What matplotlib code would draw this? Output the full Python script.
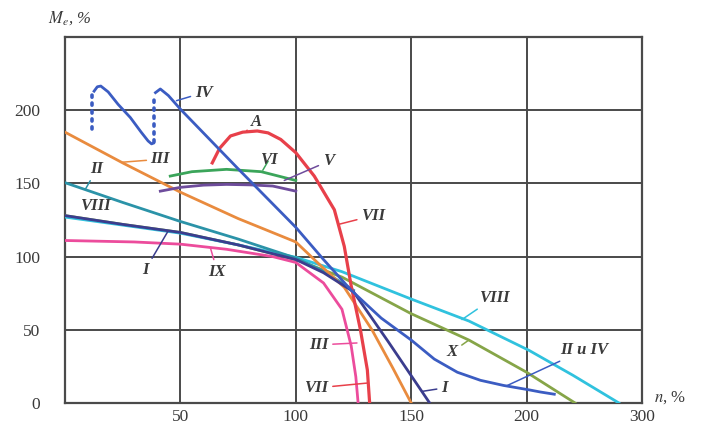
import numpy as np
import matplotlib
matplotlib.use("Agg")
import matplotlib.pyplot as plt

plt.rcParams['font.family'] = ['Liberation Serif', 'DejaVu Serif']
plt.rcParams['mathtext.fontset'] = 'stix'

# curve data, n in %, M in %
I_x = [0, 25, 50, 75, 100, 112, 125, 140, 158]
I_y = [128, 122, 116.5, 108, 98, 89, 76, 42, 0]

II_x = [0, 25, 50, 75, 100, 112, 125]
II_y = [150.5, 137, 124, 112, 99, 90, 77]

III_x = [0, 25, 50, 75, 100, 110, 121, 133, 142, 150]
III_y = [185, 164, 144, 126, 110, 95, 79, 50, 24, 0]

IV_dot1_x = [11.6, 11.6]
IV_dot1_y = [187, 212]
IV_seg_x = [12.6, 14, 15.5, 18.7, 23, 28.3, 33, 36, 37.5, 38.3]
IV_seg_y = [213, 216, 216.5, 212.5, 204, 195, 185, 179, 177, 177.5]
IV_dot2_x = [38.5, 38.5]
IV_dot2_y = [178, 210]
IV_x = [39.2, 41.3, 44.8, 50, 75, 100, 112, 124, 137, 150, 160, 170, 180, 190, 202, 212, 224]
IV_y = [212, 214.5, 210, 200.7, 160, 120, 98, 77, 58, 43, 30, 21, 15.5, 12, 9, 7.5, 6]

V_x = [41.3, 50, 60, 70, 80, 90, 100]
V_y = [144.7, 147.3, 148.8, 149.3, 149, 148.2, 144.7]

VI_x = [45.6, 55, 70, 85, 100]
VI_y = [155, 158, 159.6, 158, 152]

VII_x = [63.8, 67, 71.7, 77, 83.3, 88, 93.5, 100, 108, 116.7, 121, 124, 128, 131, 132]
VII_y = [164, 174, 182.4, 185, 185.8, 184.5, 180, 171, 155, 132, 107, 80, 50, 22.6, 0]

VIII_x = [0, 25, 50, 75, 100, 120, 150, 175, 202, 240, 280]
VIII_y = [127, 121.5, 116, 108, 99.5, 89.7, 71, 56, 36, 19, 0]

IX_x = [0, 30, 50, 70, 90, 100, 112, 120, 124, 126, 127]
IX_y = [111, 110, 108.5, 105, 100, 96, 82, 64, 39, 18, 0]

X_x = [0, 25, 50, 75, 100, 120, 150, 175, 200, 220, 242]
X_y = [128, 122, 116.5, 108, 98, 86, 61, 43, 21, 11, 0]

x_ticks = [50, 100, 150, 200, 300]
y_ticks = [0, 50, 100, 150, 200]

c_I = '#3b3d8e'
c_II = '#2b93a8'
c_III = '#e98b3e'
c_IV = '#3b5cc2'
c_V = '#6e4c9c'
c_VI = '#3ba55a'
c_VII = '#e8404a'
c_VIII = '#30c2de'
c_IX = '#ec4c9c'
c_X = '#86a548'
txt_c = '#3a3a3a'
grid_c = '#4a4a4a'


# the last grid cell (200..300) is drawn at half scale in the original
def fwd(x):
    x = np.asarray(x, dtype=float)
    return np.where(x <= 200, x, 200 + (x - 200) / 2)


def inv(u):
    u = np.asarray(u, dtype=float)
    return np.where(u <= 200, u, 200 + (u - 200) * 2)


fig = plt.figure(figsize=(7.08, 4.29), dpi=100)
ax = fig.add_axes([65 / 708, 1 - 403 / 429, (642 - 65) / 708, (403 - 37) / 429])
ax.set_xscale('function', functions=(fwd, inv))
ax.set_xlim(0, 300)
ax.set_ylim(0, 250)

ax.set_xticks(x_ticks)
ax.set_yticks(y_ticks)
ax.tick_params(length=0, labelsize=12.5, labelcolor=txt_c)
ax.tick_params(axis='x', pad=4)
ax.tick_params(axis='y', pad=18)
for v in [50, 100, 150, 200]:
    ax.axvline(v, color=grid_c, lw=1.4, zorder=1)
    ax.axhline(v, color=grid_c, lw=1.4, zorder=1)
for s in ax.spines.values():
    s.set_color(grid_c)
    s.set_linewidth(1.6)

lw = 2.0
ax.plot(X_x, X_y, color=c_X, lw=lw, zorder=3)
ax.plot(VIII_x, VIII_y, color=c_VIII, lw=lw, zorder=3)
ax.plot(II_x, II_y, color=c_II, lw=lw, zorder=3)
ax.plot(III_x, III_y, color=c_III, lw=lw, zorder=3)
ax.plot(IX_x, IX_y, color=c_IX, lw=lw, zorder=3)
ax.plot(I_x, I_y, color=c_I, lw=lw, zorder=4)
ax.plot(V_x, V_y, color=c_V, lw=lw, zorder=3)
ax.plot(VI_x, VI_y, color=c_VI, lw=lw, zorder=3)
ax.plot(VII_x, VII_y, color=c_VII, lw=lw + 0.3, zorder=4)
ax.plot(IV_seg_x, IV_seg_y, color=c_IV, lw=lw, zorder=4)
ax.plot(IV_x, IV_y, color=c_IV, lw=lw, zorder=4)
ax.plot(IV_dot1_x, IV_dot1_y, color=c_IV, lw=2.6, ls=(0, (0.6, 1.6)),
        dash_capstyle='round', zorder=4)
ax.plot(IV_dot2_x, IV_dot2_y, color=c_IV, lw=2.6, ls=(0, (0.6, 1.6)),
        dash_capstyle='round', zorder=4)

# curve labels: (text, text position, pointer end, pointer colour)
labels = [
    ('IV', (60, 212), (48.3, 206.5), c_IV),
    ('A', (83, 192), (78.7, 186), c_VII),
    ('III', (41.3, 166.5), (25, 164.5), c_III),
    ('VI', (88.3, 166), (85.7, 159), c_VI),
    ('V', (114, 165), (95, 152), c_V),
    ('II', (13.9, 160), (9, 146.5), c_II),
    ('VIII', (13, 134.3), None, None),
    ('VII', (133.5, 128), (118.5, 122), c_VII),
    ('I', (34.8, 91), (44.5, 117), c_I),
    ('IX', (66, 89.7), (63, 106), c_IX),
    ('VIII', (186, 72), (172, 57), c_VIII),
    ('X', (167.8, 35), (175, 43), c_X),
    ('II и IV', (250, 36.3), (191, 11.5), c_IV),
    ('III', (110, 39.7), (126.5, 41), c_IX),
    ('VII', (109, 10.3), (131.5, 13.7), c_VII),
    ('I', (164.3, 10.3), (155, 8), c_I),
]
for text, pos, end, col in labels:
    if end is None:
        ax.text(pos[0], pos[1], text, fontsize=12, fontstyle='italic',
                fontweight='bold', color=txt_c, ha='center', va='center', zorder=6)
    else:
        ax.annotate(text, xy=end, xytext=pos, fontsize=12, fontstyle='italic',
                    fontweight='bold', color=txt_c, ha='center', va='center',
                    arrowprops=dict(arrowstyle='-', color=col, lw=1.1,
                                    shrinkA=1, shrinkB=0),
                    zorder=6)

fig.text(70 / 708, 1 - 18 / 429, r'$M_e$, %', fontsize=12, color=txt_c,
         ha='center', va='center', fontstyle='italic')
fig.text(670 / 708, 1 - 398 / 429, r'$n$, %', fontsize=12, color=txt_c,
         ha='center', va='center')

fig.savefig('out.png', dpi=100)
